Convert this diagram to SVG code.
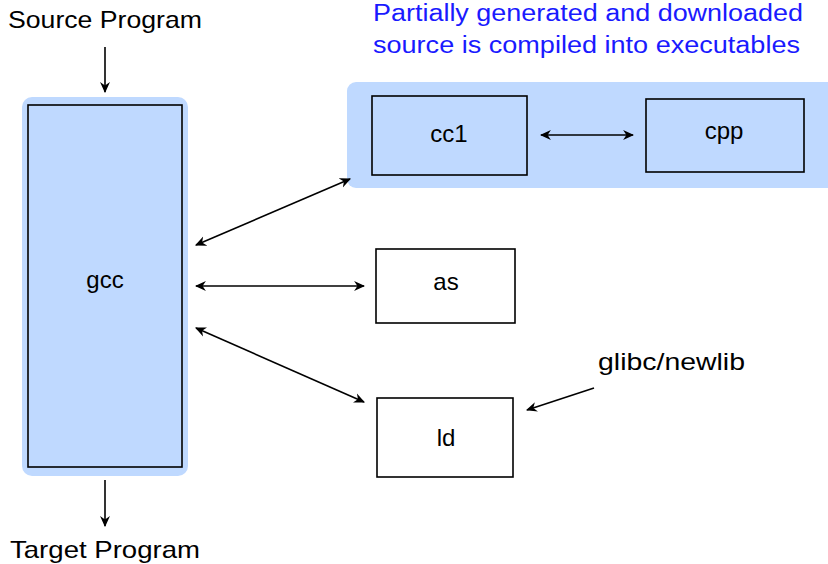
<svg xmlns="http://www.w3.org/2000/svg" width="828" height="564" viewBox="0 0 828 564">
<style>
text{font-family:"Liberation Sans","DejaVu Sans",sans-serif;font-size:24px;fill:#000}
.blue{fill:#1a1aff;font-size:23px}
.bg{fill:#bfd9ff;stroke:none}
.box{fill:#bfd9ff;stroke:#000;stroke-width:1.6}
.wbox{fill:#fff;stroke:#000;stroke-width:1.6}
.c{stroke:#000;stroke-width:1.6;fill:none}
</style>
<defs>
<marker id="ah" viewBox="0 0 10 10" refX="9" refY="5" markerWidth="11" markerHeight="11" markerUnits="userSpaceOnUse" orient="auto-start-reverse">
<path d="M0,0.5 L10,5 L0,9.5 L3,5 Z" fill="#000"/>
</marker>
</defs>
<g id="labels">
<text x="105" y="28" text-anchor="middle" textLength="194" lengthAdjust="spacingAndGlyphs">Source Program</text>
<text x="105" y="558" text-anchor="middle" textLength="190" lengthAdjust="spacingAndGlyphs">Target Program</text>
<text class="blue" x="373" y="21" textLength="430" lengthAdjust="spacingAndGlyphs">Partially generated and downloaded</text>
<text class="blue" x="373" y="53" textLength="427" lengthAdjust="spacingAndGlyphs">source is compiled into executables</text>
</g>
<g id="gcc">
<rect class="bg" x="22" y="97" width="166" height="379" rx="10"/>
<rect class="box" x="28" y="105" width="154" height="362"/>
<text x="105" y="288" text-anchor="middle">gcc</text>
</g>
<g id="group-cc1-cpp">
<rect class="bg" x="347" y="82" width="490" height="106" rx="9"/>
</g>
<g id="cc1">
<rect class="box" x="372" y="96" width="155" height="79"/>
<text x="449" y="142" text-anchor="middle">cc1</text>
</g>
<g id="cpp">
<rect class="box" x="646" y="99" width="158" height="73"/>
<text x="724" y="139" text-anchor="middle">cpp</text>
</g>
<g id="as">
<rect class="wbox" x="376" y="249" width="139" height="74"/>
<text x="446" y="290" text-anchor="middle">as</text>
</g>
<g id="ld">
<rect class="wbox" x="377" y="398" width="136" height="79"/>
<text x="446" y="446" text-anchor="middle">ld</text>
</g>
<g id="glibc">
<text x="598" y="370" textLength="147" lengthAdjust="spacingAndGlyphs">glibc/newlib</text>
</g>
<g id="connectors">
<line class="c" x1="105" y1="47" x2="105" y2="92" marker-end="url(#ah)"/>
<line class="c" x1="105" y1="480" x2="105" y2="526" marker-end="url(#ah)"/>
<line class="c" x1="541" y1="135" x2="633" y2="135" marker-start="url(#ah)" marker-end="url(#ah)"/>
<line class="c" x1="196" y1="245" x2="350" y2="179" marker-start="url(#ah)" marker-end="url(#ah)"/>
<line class="c" x1="196" y1="286" x2="364" y2="286" marker-start="url(#ah)" marker-end="url(#ah)"/>
<line class="c" x1="196" y1="328" x2="364" y2="402" marker-start="url(#ah)" marker-end="url(#ah)"/>
<line class="c" x1="594" y1="388" x2="527" y2="410" marker-end="url(#ah)"/>
</g>
</svg>
